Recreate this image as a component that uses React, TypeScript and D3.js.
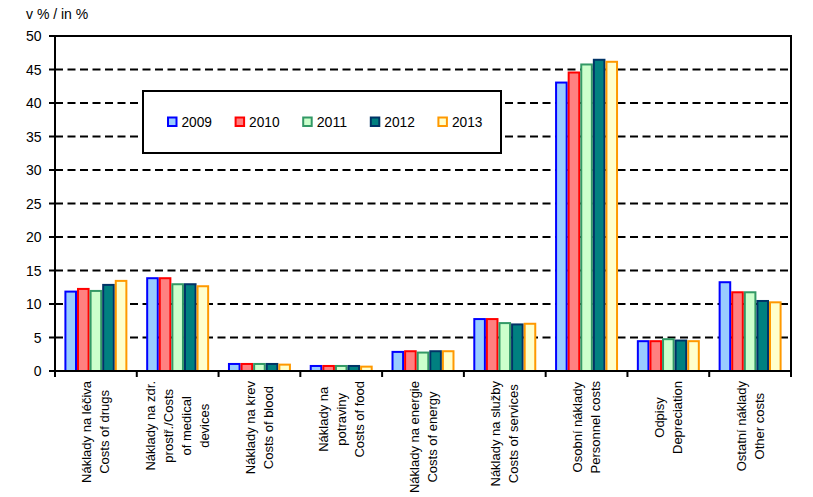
import React, { useEffect, useRef } from 'react';
import * as d3 from 'd3';

const years = ['2009', '2010', '2011', '2012', '2013'];
const categories = ['drugs', 'medical', 'blood', 'food', 'energy', 'services', 'personnel', 'depreciation', 'other'];
const categoryLabels: string[][] = [
  ['Náklady na léčiva', 'Costs of drugs'],
  ['Náklady na zdr.', 'prostř./Costs', 'of medical', 'devices'],
  ['Náklady na krev', 'Costs of blood'],
  ['Náklady na', 'potraviny', 'Costs of food'],
  ['Náklady na energie', 'Costs of energy'],
  ['Náklady na služby', 'Costs of services'],
  ['Osobní náklady', 'Personnel costs'],
  ['Odpisy', 'Depreciation'],
  ['Ostatní náklady', 'Other costs'],
];
const values2009 = [12.0, 14.0, 1.2, 0.9, 3.0, 7.9, 43.2, 4.6, 13.4];
const values2010 = [12.4, 14.0, 1.2, 0.9, 3.1, 7.9, 44.7, 4.6, 11.9];
const values2011 = [12.1, 13.1, 1.2, 0.9, 2.9, 7.3, 45.9, 4.9, 11.9];
const values2012 = [13.0, 13.1, 1.2, 0.9, 3.1, 7.1, 46.6, 4.7, 10.6];
const values2013 = [13.6, 12.8, 1.1, 0.8, 3.1, 7.2, 46.3, 4.6, 10.4];
const seriesValues = [values2009, values2010, values2011, values2012, values2013];
const yTicks = [0, 5, 10, 15, 20, 25, 30, 35, 40, 45, 50];
const yTitle = 'v % / in %';

const FILLS = ['#99CCFF', '#FF8080', '#CCFFCC', '#008080', '#FFFFCC'];
const STROKES = ['#0000FF', '#FF0000', '#339966', '#003366', '#FF9900'];
const FONT = '"Liberation Sans", Arial, sans-serif';

export default function App() {
  const ref = useRef<SVGSVGElement | null>(null);

  useEffect(() => {
    const svg = d3.select(ref.current);
    svg.selectAll('*').remove();

    const left = 55, right = 791, top = 36, bottom = 371;
    const x0 = d3.scaleBand<string>().domain(categories).range([left, right]).paddingInner(0.23).paddingOuter(0.115);
    const x1 = d3.scaleBand<string>().domain(years).range([0, x0.bandwidth()]);
    const y = d3.scaleLinear().domain([0, 50]).range([bottom, top]);
    const step = (right - left) / categories.length;

    // dashed gridlines
    svg.append('g').selectAll('line').data(yTicks.filter(t => t > 0 && t < 50)).join('line')
      .attr('x1', left).attr('x2', right)
      .attr('y1', d => y(d)).attr('y2', d => y(d))
      .attr('stroke', '#000').attr('stroke-width', 2).attr('stroke-dasharray', '8,4.5');

    // bars
    const groups = svg.append('g').selectAll('g').data(categories).join('g')
      .attr('transform', c => `translate(${x0(c)},0)`);
    groups.selectAll('rect').data(c => years.map((yr, s) => ({ yr, s, v: seriesValues[s][categories.indexOf(c)] })))
      .join('rect')
      .attr('x', d => (x1(d.yr) as number) + 1)
      .attr('y', d => y(d.v) + 1)
      .attr('width', x1.bandwidth() - 2)
      .attr('height', d => Math.max(0, y(0) - y(d.v) - 1))
      .attr('fill', d => FILLS[d.s])
      .attr('stroke', d => STROKES[d.s])
      .attr('stroke-width', 2);

    // legend
    const lg = svg.append('g');
    lg.append('rect').attr('x', 143).attr('y', 91).attr('width', 358).attr('height', 62)
      .attr('fill', '#fff').attr('stroke', '#000').attr('stroke-width', 2);
    years.forEach((yr, s) => {
      const lx = 168 + s * 67.6;
      lg.append('rect').attr('x', lx).attr('y', 117.5).attr('width', 8.5).attr('height', 8.5)
        .attr('fill', FILLS[s]).attr('stroke', STROKES[s]).attr('stroke-width', 2);
      lg.append('text').attr('x', lx + 13.5).attr('y', 127).text(yr)
        .attr('font-family', FONT).attr('font-size', 15.5).attr('fill', '#000')
        .attr('textLength', 30.5).attr('lengthAdjust', 'spacingAndGlyphs');
    });

    // axes & border
    const ax = svg.append('g').attr('stroke', '#000').attr('stroke-width', 2);
    ax.append('line').attr('x1', left).attr('x2', left).attr('y1', top - 1).attr('y2', bottom + 6);
    ax.append('line').attr('x1', right).attr('x2', right).attr('y1', top - 1).attr('y2', bottom + 6);
    ax.append('line').attr('x1', left - 6).attr('x2', right + 1).attr('y1', top).attr('y2', top);
    ax.append('line').attr('x1', left - 6).attr('x2', right + 1).attr('y1', bottom).attr('y2', bottom);
    ax.selectAll('.yt').data(yTicks).join('line').attr('class', 'yt')
      .attr('x1', left - 6).attr('x2', left).attr('y1', d => y(d)).attr('y2', d => y(d));
    ax.selectAll('.xt').data(d3.range(categories.length + 1)).join('line').attr('class', 'xt')
      .attr('x1', i => left + i * step).attr('x2', i => left + i * step)
      .attr('y1', bottom).attr('y2', bottom + 6);

    // y tick labels
    svg.append('g').selectAll('text').data(yTicks).join('text')
      .attr('x', 41.5).attr('y', d => y(d) + 5)
      .attr('text-anchor', 'end').attr('font-family', FONT).attr('font-size', 14).attr('fill', '#000')
      .text(d => String(d));

    // y title
    svg.append('text').attr('x', 26).attr('y', 18.5).attr('font-family', FONT).attr('font-size', 14)
      .attr('fill', '#000').text(yTitle);

    // category labels
    const lh = 18;
    const fs = 13;
    categories.forEach((c, i) => {
      const cx = left + (i + 0.5) * step;
      const lines = categoryLabels[i];
      const g = svg.append('g');
      const texts = lines.map(l => g.append('text').attr('font-family', FONT).attr('font-size', fs)
        .attr('fill', '#000').attr('text-anchor', 'middle').text(l));
      const maxLen = d3.max(texts, t => (t.node() as SVGTextElement).getComputedTextLength()) || 0;
      const cy = 381 + maxLen / 2;
      texts.forEach((t, j) => {
        const bx = cx + (j - (lines.length - 1) / 2) * lh + 4.6;
        t.attr('transform', `translate(${bx},${cy}) rotate(-90)`);
      });
    });
  }, []);

  return (
    <svg ref={ref} width={813} height={497}
      style={{ position: 'absolute', left: 0, top: 0, background: '#fff' }} />
  );
}
